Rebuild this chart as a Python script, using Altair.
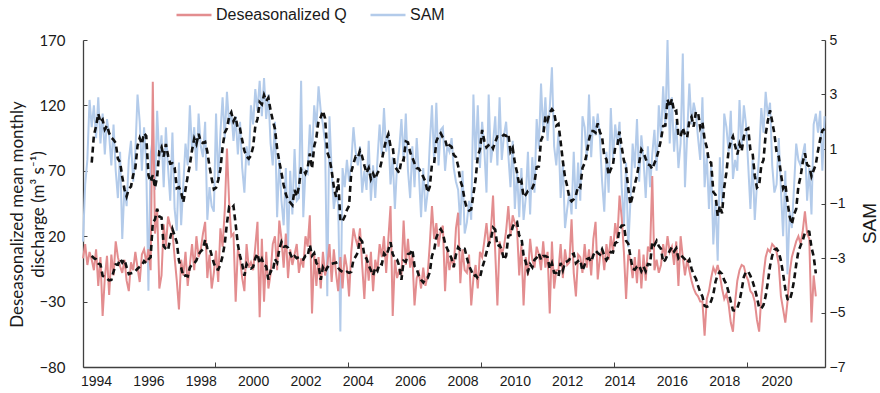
import altair as alt
import pandas as pd

# Monthly SAM index, July 1993 onwards
sam_values = [
    -2.4, -0.3, 0.6, 2.8, 1.8, 2.6, 1.4, 2.9, 1.2, 2.3, 0.8, 2.1,
    1.5, 0.4, 1.9, 0.2, -0.8, 0.9, -2.3, -0.4, -1.1, 0.6, 1.3, -0.2,
    0.9, 3.0, 2.0, 0.2, 1.8, 0.4, -4.2, 0.8, 1.4, -0.5, 2.4,
    0.6, 1.5, -0.4, 1.8, 0.3, -0.9, 1.6, -1.2, -2.0, 0.5, -1.8, -0.3,
    1.2, 0.4, 2.6, 0.9, 1.8, 0.2, 2.3, 1.1, 0.7, 2.0, -1.6, -0.4,
    -1.1, -1.3, 2.3, -0.2, 1.6, 2.9, 1.4, 3.1, 1.9, 2.4, 1.3, 2.2,
    0.8, 2.0, 0.3, -0.6, 1.1, 0.4, 2.6, 1.9, 3.2, 2.4, 3.5,
    2.2, 3.6, 2.1, 3.0, 1.2, 0.4, 2.0, -1.5, 0.6, -0.9, -1.8, 0.3,
    -2.6, 0.2, -1.4, 1.0, -0.9, -0.8, 3.5, -1.5, 0.2, 0.1, 1.9, 0.7,
    2.6, 1.8, 3.3, 2.4, 1.9, 1.2, -4.4, 2.2, 0.2, -1.2, -0.6, -1.0,
    -5.7, 0.3, -0.4, 0.6, -0.2, 0.5, 1.8, 0.9, 0.4, 1.1, -0.6,
    0.2, -0.5, 1.3, -0.9, 0.4, -0.8, 0.6, 1.9, 0.8, 2.5, 0.9, 1.6,
    -0.3, 0.7, -1.2, 0.4, 1.0, 2.1, 0.6, 2.3, 0.2, -0.8, 1.1, -0.4,
    1.4, 0.1, -1.5, 0.3, -1.3, -0.6, 1.2, 2.6, 0.5, 2.7, 0.4, 1.7,
    1.8, 0.2, 1.1, 0.9, 1.4, 0.3, -0.2, -0.5, -1.8, 0.2, -2.1,
    -1.7, -0.9, -1.6, 3.0, 0.6, 2.6, 0.3, 2.0, 1.0, -0.6, 3.0, 0.5,
    1.2, 2.2, 0.4, 2.9, 0.6, 1.5, 2.0, 0.8, -0.4, 1.3, -1.2, 0.2,
    -1.5, 0.3, -1.6, -0.8, 0.9, -1.4, 0.7, -0.6, 2.1, 1.0, 3.4, 1.6,
    2.9, 1.3, 2.5, 4.0, 1.1, 0.4, 1.6, -0.8, 0.5, -1.9, -1.2,
    -0.6, -1.4, 0.9, -1.2, 0.5, -0.9, 2.2, 1.8, 0.6, 3.0, 0.7, 2.2,
    1.5, 2.3, 1.4, -0.2, -1.3, 0.9, -0.6, 2.5, 0.6, 1.9, 1.2, 2.0,
    -0.4, -1.8, 0.5, -2.6, -0.9, 1.2, 0.3, 2.1, -0.2, 1.5, 0.6, -0.8,
    1.1, -0.4, 0.8, 1.7, 0.2, 2.6, 1.4, 3.3, 1.8, 5.0, 1.2, 2.9,
    0.9, 2.0, 0.3, 1.2, 4.5, -0.4, 1.5, 3.4, 1.9, 2.7, 2.3,
    1.4, 0.6, 2.9, -0.4, 0.8, -1.2, 0.4, -2.5, -0.9, -3.1, 0.7, -1.0,
    2.3, 1.8, 0.9, 2.4, -0.1, 0.6, 0.2, 2.8, 1.1, 2.6, 1.9, 0.4,
    -1.2, 0.6, -1.6, -0.3, 0.8, 2.5, 1.6, 3.1, 2.2, 2.7, 0.4, -0.6,
    -0.3, 1.4, -0.5, -2.2, 0.2, -3.6, -1.3, -1.9, -0.4, 1.2, 0.6,
    0.4, 0.8, 1.2, -0.9, 0.3, -1.4, 1.9, 2.3, 1.6, 2.4, 0.2, 2.2,
]

# Monthly deseasonalized discharge (m3 s-1), July 1993 onwards
q_values = [
    3, 14, -2, 8, 2, -6, 10, -18, 4, -41, -12, 5,
    -25, 6, -10, 16, 4, -3, -8, 2, -14, -22, 0, -6,
    8, -4, -15, 6, 10, 0, 10, -6, 138, 22, 41,
    -20, -10, 29, 12, 35, 28, 24, 4, -14, -36, 2, -10,
    8, -18, -2, 14, -6, 20, 4, 10, 22, 31, -12, 6,
    -20, -8, 9, -15, 26, 12, 40, 87, 46, 20, 22, -30,
    10, 3, -12, -22, 14, -4, 0, -6, 12, 31, -42,
    18, -30, 8, -20, -9, 14, 20, -6, 32, 18, -4, 22,
    -12, 10, -2, 6, 14, -8, 3, -4, 20, 12, 36, -39,
    6, -18, 4, -20, 8, -10, -2, 14, -15, 10, -8, -22,
    4, -20, 6, -4, -26, 8, 26, 18, 12, 26, -2,
    -28, 6, -14, 8, -22, 2, -6, 14, 4, 20, -8, 18,
    43, -41, 2, -12, -6, -10, 32, -2, 18, -4, 6, -33,
    -12, -8, -20, -4, -18, -10, 14, 43, 18, 30, 12, 24,
    28, -22, 10, -6, 4, -4, 26, 38, -16, 10, -6,
    -8, 6, -33, -12, -2, -20, 8, 4, 16, 30, 12, 24,
    51, 8, -33, 16, 6, 12, 24, 43, 20, 36, 30, 26,
    -10, 14, -33, 4, -10, 18, 2, -4, 12, 6, -6, 16,
    -4, 8, -39, 16, -20, -6, -6, 14, -12, 10, -2,
    0, 33, -8, -26, 6, 4, -8, 14, -4, 10, -10, 18,
    31, -13, 4, 10, -6, 14, 2, 20, 8, 30, 18, 51,
    34, 8, -28, 6, 2, -12, 4, -16, 10, -20, 6, -14,
    12, 8, 66, -6, 2, -8, -2, 14, 4, 20, 8, 12,
    -2, 16, -18, 20, 4, -10, 2, -6, -14, -20, -24,
    -26, -30, -30, -56, -28, -22, -12, -4, -8, -2, -10, -20,
    -28, -24, -32, -46, -53, -30, -14, -6, -2, -3, -10, -14,
    -22, -24, -30, -44, -53, -26, -10, 4, 10, 8, 14, 12,
    8, -2, -26, -36, -46, -30, -8, 4, 10, 16, 20,
    14, 24, 39, 22, 18, -46, -10, -26,
]

year_labels = list(range(1994, 2021, 2))
x_tick_marks = [1998.54, 2003.62, 2008.70, 2013.78, 2018.86]
q_ticks = [-80, -30, 20, 70, 120, 170]
sam_ticks = [-7, -5, -3, -1, 1, 3, 5]
series_names = ["Deseasonalized Q", "SAM"]
series_colors = ["#e38d8f", "#b3cbea"]

PLOT_W, PLOT_H = 742, 327
AXIS_COLOR = "#404040"
TEXT_COLOR = "#1a1a1a"


def monthly_frame(values, name):
    months = pd.date_range("1993-07-01", periods=len(values), freq="MS")
    df = pd.DataFrame({"t": months.year + (months.month - 1) / 12.0, "v": values})
    df["ma"] = df["v"].rolling(5).mean()  # 5-month moving average
    df["series"] = name
    return df


q_df = monthly_frame(q_values, series_names[0])
sam_df = monthly_frame(sam_values, series_names[1])
q_ma_df = q_df.dropna()
sam_ma_df = sam_df.dropna()

x_scale = alt.Scale(domain=[1993.5, 2021.85], nice=False, zero=False)
q_scale = alt.Scale(domain=[-80, 170], nice=False, zero=False)
sam_scale = alt.Scale(domain=[-7, 5], nice=False, zero=False)

color = alt.Color(
    "series:N",
    scale=alt.Scale(domain=series_names, range=series_colors),
    legend=alt.Legend(
        title=None,
        orient="none",
        legendX=92,
        legendY=-44,
        direction="horizontal",
        symbolType="stroke",
        symbolSize=1225,
        symbolStrokeWidth=2.5,
        labelFont="Liberation Sans",
        labelFontSize=16,
        labelColor=TEXT_COLOR,
        labelOffset=3,
        columnPadding=18,
        padding=0,
    ),
)

sam_line = alt.Chart(sam_df).mark_line(strokeWidth=2).encode(
    x=alt.X(
        "t:Q",
        scale=x_scale,
        axis=alt.Axis(
            values=year_labels,
            format="d",
            title=None,
            grid=False,
            tickSize=0,
            labelPadding=7,
            labelFont="Liberation Sans",
            labelFontSize=14,
            labelColor=TEXT_COLOR,
            domainColor=AXIS_COLOR,
            domainWidth=1.3,
            labelFlush=False,
        ),
    ),
    y=alt.Y(
        "v:Q",
        scale=sam_scale,
        axis=alt.Axis(
            orient="right",
            values=sam_ticks,
            title="SAM",
            grid=False,
            tickSize=0,
            labelPadding=4,
            labelFont="Liberation Sans",
            labelFontSize=14,
            labelColor=TEXT_COLOR,
            domainColor=AXIS_COLOR,
            domainWidth=1.3,
            titleFont="Liberation Sans",
            titleFontSize=19,
            titleFontWeight="normal",
            titleColor=TEXT_COLOR,
            titleAngle=270,
            titleAlign="center",
            titleBaseline="middle",
            titleX=44,
            titleY=183,
        ),
    ),
    color=color,
)

q_line = alt.Chart(q_df).mark_line(strokeWidth=2).encode(
    x=alt.X(
        "t:Q",
        scale=x_scale,
        axis=alt.Axis(
            orient="top",
            offset=-PLOT_H,
            values=x_tick_marks,
            labels=False,
            domain=False,
            title=None,
            grid=False,
            tickSize=5,
            tickColor=AXIS_COLOR,
        ),
    ),
    y=alt.Y(
        "v:Q",
        scale=q_scale,
        axis=alt.Axis(
            orient="left",
            values=q_ticks,
            title=["Deseasonalized mean monthly", "discharge (m\u00b3 s\u207b\u00b9)"],
            grid=False,
            tickSize=0,
            labelPadding=18,
            labelFont="Lato",
            labelFontSize=15,
            labelColor=TEXT_COLOR,
            domainColor=AXIS_COLOR,
            domainWidth=1.3,
            titleFont="Lato",
            titleFontSize=17,
            titleFontWeight="normal",
            titleColor=TEXT_COLOR,
            titleAngle=270,
            titleAlign="center",
            titleBaseline="middle",
            titleLineHeight=21,
            titleX=-66,
            titleY=174,
        ),
    ),
    color=color,
)

sam_trend = alt.Chart(sam_ma_df).mark_line(
    color="#111111", strokeWidth=2.6, strokeDash=[6, 4]
).encode(
    x=alt.X("t:Q", scale=x_scale, axis=None),
    y=alt.Y(
        "ma:Q",
        scale=sam_scale,
        axis=alt.Axis(
            orient="left",
            offset=-PLOT_W,
            values=sam_ticks,
            labels=False,
            domain=False,
            title=None,
            grid=False,
            tickSize=4,
            tickColor=AXIS_COLOR,
        ),
    ),
)

q_trend = alt.Chart(q_ma_df).mark_line(
    color="#111111", strokeWidth=2.6, strokeDash=[6, 4]
).encode(
    x=alt.X("t:Q", scale=x_scale, axis=None),
    y=alt.Y(
        "ma:Q",
        scale=q_scale,
        axis=alt.Axis(
            orient="right",
            offset=-PLOT_W,
            values=q_ticks,
            labels=False,
            domain=False,
            title=None,
            grid=False,
            tickSize=4,
            tickColor=AXIS_COLOR,
        ),
    ),
)

chart = (
    alt.layer(sam_line, q_line, sam_trend, q_trend)
    .resolve_scale(y="independent")
    .resolve_axis(x="independent", y="independent")
    .properties(
        width=PLOT_W,
        height=PLOT_H,
        padding={"left": 83, "top": 40, "right": 55, "bottom": 26},
        autosize=alt.AutoSizeParams(type="none"),
        background="white",
    )
    .configure_view(stroke=None)
)

chart.save("out.html", embed_options={"renderer": "svg", "actions": False})
